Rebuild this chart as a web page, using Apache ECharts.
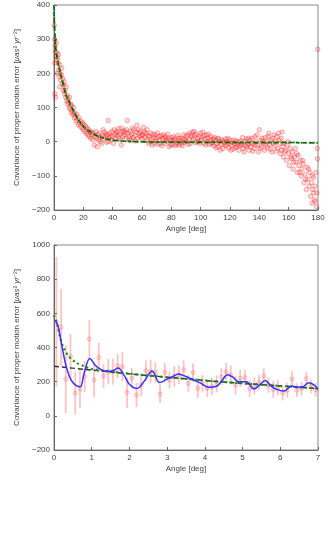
<!DOCTYPE html>
<html>
<head>
<meta charset="utf-8">
<script src="https://cdn.jsdelivr.net/npm/echarts@6/dist/echarts.min.js"></script>
<style>
  html, body { margin: 0; padding: 0; background: #fff; }
  #chart { width: 331px; height: 540px; }
</style>
</head>
<body>
<div id="chart"></div>
<script>
// top panel: covariance vs angle (0-180 deg), scatter cloud + exponential fit
const topPoints = [
  [0.2,340],[0.4,300],[0.5,230],[0.6,140],[0.8,280],[1,265],[1,130],[1.3,250],[1.5,290],[1.8,240],
  [2,260],[2.2,200],[2.5,245],[2.8,230],[3,255],[3.2,210],[3.5,190],[3.8,160],[4,225],[4.3,200],
  [4.6,180],[5,195],[5.3,215],[5.6,170],[6,185],[6.3,150],[6.6,165],[7,175],[7.3,140],[7.6,150],
  [8,130],[8.3,160],[8.6,120],[9,135],[9.3,110],[9.6,125],[10,115],[10.3,100],[10.6,130],[11,95],
  [11.4,110],[11.8,85],[12,105],[12.5,90],[13,80],[13.4,100],[13.8,70],[14,85],[14.5,75],[15,60],
  [15.5,80],[16,65],[16.5,50],[17,70],[17.5,55],[18,45],[18.5,60],[19,40],[19.5,55],[20,35],
  [20.5,50],[21,30],[21.5,45],[22,25],[22.5,40],[23,20],[23.5,35],[24,15],[24.5,30],[25,10],
  [25.5,28],[26,20],[26.5,5],[27,25],[27.5,-10],[28,15],[28.5,30],[29,10],[29.5,-15],[30,20],
  [30.5,5],[31,25],[32,12],[32.5,-5],[33,18],[34,8],[34.5,28],[35,15],[36,-2],[36.5,20],
  [37,62],[37.5,10],[38,25],[39,5],[39.5,30],[40,15],[41,35],[41.5,20],[42,8],[43,30],
  [43.5,18],[44,38],[45,22],[45.5,5],[46,-10],[46.5,28],[47,15],[47.5,32],[48,20],[49,10],
  [49.5,35],[50,62],[50.5,25],[51,15],[52,30],[52.5,5],[53,22],[54,12],[54.5,35],[55,18],
  [56,28],[56.5,48],[57,10],[58,25],[58.5,15],[59,30],[60,8],[60.5,20],[61,42],[62,12],
  [62.5,25],[63,5],[64,18],[64.5,-5],[65,15],[66,25],[66.5,8],[67,-10],[68,12],[69,20],
  [69.5,2],[70,10],[71,-8],[71.5,15],[72,5],[73,18],[73.5,-12],[74,8],[75,12],[75.5,-5],
  [76,15],[77,0],[78,10],[78.5,-15],[79,5],[80,12],[80.5,-8],[81,2],[82,8],[82.5,-12],
  [83,5],[84,-3],[85,10],[85.5,-10],[86,3],[87,-5],[88,8],[89,-2],[90,15],[90.5,0],
  [91,20],[92,5],[92.5,25],[93,-5],[94,12],[94.5,28],[95,8],[96,18],[96.5,-3],[97,22],
  [98,10],[98.5,0],[99,15],[100,25],[100.5,5],[101,12],[102,-5],[102.5,18],[103,8],[104,20],
  [104.5,0],[105,10],[106,-8],[106.5,5],[107,15],[108,-3],[108.5,8],[109,-12],[110,5],[111,-5],
  [111.5,10],[112,-15],[113,0],[114,-8],[114.5,5],[115,-20],[116,-3],[117,8],[117.5,-12],[118,0],
  [119,-18],[120,5],[121,-10],[121.5,-2],[122,-22],[123,-5],[124,3],[124.5,-15],[125,-8],[126,-25],
  [127,2],[127.5,-10],[128,-5],[129,-20],[130,0],[130.5,-12],[131,8],[132,-8],[133,-25],[133.5,5],
  [134,-15],[135,10],[136,-5],[136.5,-20],[137,15],[138,0],[139,-10],[139.5,-30],[140,35],[141,5],
  [141.5,-15],[142,10],[143,-5],[143.5,-25],[144,12],[145,0],[145.5,-18],[146,15],[147,-8],[148,5],
  [148.5,-30],[149,10],[150,20],[150.5,-12],[151,0],[152,15],[152.5,-20],[153,25],[154,-5],[154.5,-35],
  [155,10],[155.5,28],[156,-15],[156.5,-45],[157,-5],[158,-25],[158.5,-55],[159,-10],[160,-35],[160.5,-70],
  [161,-20],[162,-50],[162.5,-30],[163,-80],[164,-45],[164.5,-20],[165,-60],[166,-90],[166.5,-40],[167,-70],
  [168,-55],[168.5,-100],[169,-80],[170,-65],[170.5,-120],[171,-95],[172,-140],[172.5,-75],[173,-110],[174,-130],
  [174.5,-90],[175,-160],[175.5,-120],[176,-180],[176.5,-140],[177,-105],[177.5,-170],[178,-130],[178.5,-90],[179,-190],
  [179.3,-150],[179.6,-50],[179.8,270],[179.5,-20]
];
const topPointsExtra = [
  [31.5,0],[33.5,35],[35.5,22],[37,0],[38.5,15],[40.5,-5],[42.5,25],[44.5,10],[46,40],[48.5,28],
  [51.5,8],[53.5,40],[55.5,2],[57.5,35],[59.5,18],[61.5,28],[63.5,35],[65.5,0],[67.5,22],[68.5,-5],
  [70.5,25],[72.5,-5],[74.5,20],[76.5,5],[77.5,22],[79.5,-10],[81.5,15],[83.5,-8],[84.5,18],[86.5,10],
  [87.5,-12],[88.5,20],[89.5,5],[91.5,-8],[93.5,18],[95.5,30],[97.5,0],[99.5,-5],[101.5,28],[103.5,-10],
  [105.5,22],[107.5,-5],[109.5,12],[110.5,-18],[112.5,8],[113.5,-25],[115.5,2],[116.5,-10],[118.5,10],[119.5,-5],
  [120.5,-25],[122.5,5],[123.5,-18],[125.5,0],[126.5,-12],[128.5,12],[129.5,-30],[131.5,-15],[132.5,10],[134.5,-5],
  [135.5,-28],[137.5,-10],[138.5,20],[140.5,-20],[142.5,0],[144.5,-10],[146.5,25],[147.5,-22],[149.5,-5],[151.5,-28],
  [153.5,5],[155,-25],[157.5,-30],[159.5,0],[161.5,-45],[163.5,-60],[165.5,-35],[167.5,-90],[169.5,-55],[171.5,-110],
  [173.5,-80],[176,-100],[177,-150],[178,-175]
];
const topFit = [
  [0,400],[0.3,340],[0.7,310],[1.5,260],[3,225],[5,190],[8,140],[10,120],[13,93],[16,68],
  [20,45],[25,28],[30,16],[38,6],[50,1],[70,-1],[180,-3]
];

// bottom panel: binned covariance (0-7 deg) with error bars
const binAngle = [
  0.0625,0.1875,0.3125,0.4375,0.5625,0.6875,0.8125,0.9375,1.0625,1.1875,
  1.3125,1.4375,1.5625,1.6875,1.8125,1.9375,2.0625,2.1875,2.3125,2.4375,
  2.5625,2.6875,2.8125,2.9375,3.0625,3.1875,3.3125,3.4375,3.5625,3.6875,
  3.8125,3.9375,4.0625,4.1875,4.3125,4.4375,4.5625,4.6875,4.8125,4.9375,
  5.0625,5.1875,5.3125,5.4375,5.5625,5.6875,5.8125,5.9375,6.0625,6.1875,
  6.3125,6.4375,6.5625,6.6875,6.8125,6.9375
];
const binCov = [
  550,518,215,346,132,157,230,450,210,340,
  233,259,259,292,288,136,220,122,180,264,
  259,253,128,255,210,230,241,270,190,253,
  161,190,161,171,188,229,259,239,180,220,
  224,161,175,195,233,180,155,165,135,150,
  216,150,160,218,172,152
];
const binErr = [
  380,225,200,135,125,110,90,110,100,88,
  70,75,75,70,85,90,60,70,65,60,
  70,60,55,55,50,60,55,55,50,55,
  55,50,50,50,50,50,50,55,55,50,
  45,50,50,45,45,45,50,45,45,45,
  45,40,40,40,40,40
];
const smoothAngle = [0.03,0.1,0.2,0.3,0.4,0.5,0.6,0.7,0.8,0.95,1.1,1.25,1.4,1.55,1.7,1.85,2.0,2.2,2.4,2.6,2.8,3.0,3.15,3.3,3.5,3.7,3.9,4.1,4.3,4.45,4.6,4.75,4.9,5.1,5.3,5.45,5.6,5.75,5.9,6.1,6.3,6.45,6.6,6.75,6.9,7.0];
const smoothCov = [560,530,420,310,235,195,175,170,250,335,295,270,260,262,280,240,185,160,205,262,195,215,230,245,230,210,190,168,172,205,240,225,200,200,157,180,207,175,155,145,175,168,170,193,180,155];
const fitAngle = [0,0.05,0.1,0.15,0.25,0.4,0.6,0.8,1,1.5,2,3,4,5,6,7];
const fitCov = [590,560,522,470,400,346,310,290,275,260,247,226,207,190,175,160];
const lineAngle = [0,1,2,3,4,5,6,7];
const lineCov = [290,268,246,226,207,190,175,160];

const yName = 'Covariance of proper motion error [{i|μas}² {i|yr}⁻²]';
const textColor = '#444';
const font = 'Liberation Sans';
const fmt = v => String(v).replace('-', '−');

function xAxis(gridIndex, max, interval) {
  return {
    type: 'value', gridIndex, min: 0, max, interval,
    name: 'Angle [deg]', nameLocation: 'middle', nameGap: 15,
    nameTextStyle: { color: textColor, fontSize: 8, fontFamily: font },
    axisLine: { onZero: false, lineStyle: { color: '#666' } },
    axisTick: { inside: true, length: 3, lineStyle: { color: '#666' } },
    axisLabel: { color: textColor, fontSize: 8, fontFamily: font, margin: 4, formatter: fmt },
    splitLine: { show: false }
  };
}
function yAxis(gridIndex, min, max, interval) {
  return {
    type: 'value', gridIndex, min, max, interval,
    name: yName, nameLocation: 'middle', nameGap: 25,
    nameTextStyle: {
      color: textColor, fontSize: 8, fontFamily: font,
      rich: { i: { fontStyle: 'italic', fontSize: 8, fontFamily: font, color: textColor } }
    },
    axisLine: { onZero: false, lineStyle: { color: '#666' } },
    axisTick: { inside: true, length: 3, lineStyle: { color: '#666' } },
    axisLabel: { color: textColor, fontSize: 8, fontFamily: font, margin: 4, formatter: fmt },
    splitLine: { show: false }
  };
}

const scatterStyle = { color: 'rgba(255,0,0,0.18)', borderColor: 'rgba(255,0,0,0.55)', borderWidth: 0.7 };

const chart = echarts.init(document.getElementById('chart'), null, { renderer: 'canvas' });
chart.setOption({
  animation: false,
  grid: [
    { left: 54, top: 5, width: 264, height: 205, show: true, borderColor: '#888', borderWidth: 1 },
    { left: 54, top: 245, width: 264, height: 205, show: true, borderColor: '#888', borderWidth: 1 }
  ],
  xAxis: [xAxis(0, 180, 20), xAxis(1, 7, 1)],
  yAxis: [yAxis(0, -200, 400, 100), yAxis(1, -200, 1000, 200)],
  series: [
    {
      type: 'scatter', xAxisIndex: 0, yAxisIndex: 0, data: topPoints,
      symbolSize: 4.5, itemStyle: scatterStyle
    },
    {
      type: 'scatter', xAxisIndex: 0, yAxisIndex: 0, data: topPointsExtra,
      symbolSize: 4.5, itemStyle: scatterStyle
    },
    {
      type: 'line', xAxisIndex: 0, yAxisIndex: 0, data: topFit, smooth: 0.3,
      symbol: 'none', lineStyle: { color: '#222', width: 1.5, type: [4, 3] }
    },
    {
      type: 'line', xAxisIndex: 0, yAxisIndex: 0, data: topFit, smooth: 0.3,
      symbol: 'none', lineStyle: { color: '#119911', width: 2, type: [2, 2] }
    },
    {
      type: 'custom', xAxisIndex: 1, yAxisIndex: 1,
      data: binAngle.map((a, i) => [a, binCov[i] - binErr[i], binCov[i] + binErr[i]]),
      renderItem: (params, api) => {
        const lo = api.coord([api.value(0), api.value(1)]);
        const hi = api.coord([api.value(0), api.value(2)]);
        return {
          type: 'line', shape: { x1: lo[0], y1: lo[1], x2: hi[0], y2: hi[1] },
          style: { stroke: 'rgba(255,80,80,0.35)', lineWidth: 1.8 }
        };
      },
      clip: true
    },
    {
      type: 'scatter', xAxisIndex: 1, yAxisIndex: 1,
      data: binAngle.map((a, i) => [a, binCov[i]]),
      symbolSize: 4,
      itemStyle: { color: 'rgba(255,0,0,0.1)', borderColor: 'rgba(255,60,60,0.45)', borderWidth: 0.8 }
    },
    {
      type: 'line', xAxisIndex: 1, yAxisIndex: 1,
      data: lineAngle.map((a, i) => [a, lineCov[i]]), smooth: 0.3,
      symbol: 'none', lineStyle: { color: '#333', width: 1.5, type: [5, 3] }
    },
    {
      type: 'line', xAxisIndex: 1, yAxisIndex: 1,
      data: fitAngle.map((a, i) => [a, fitCov[i]]), smooth: 0.3,
      symbol: 'none', lineStyle: { color: '#119911', width: 2.2, type: [2, 3] }
    },
    {
      type: 'line', xAxisIndex: 1, yAxisIndex: 1,
      data: smoothAngle.map((a, i) => [a, smoothCov[i]]), smooth: 0.35,
      symbol: 'none', lineStyle: { color: '#3333ff', width: 1.5 }
    }
  ]
});
</script>
</body>
</html>
